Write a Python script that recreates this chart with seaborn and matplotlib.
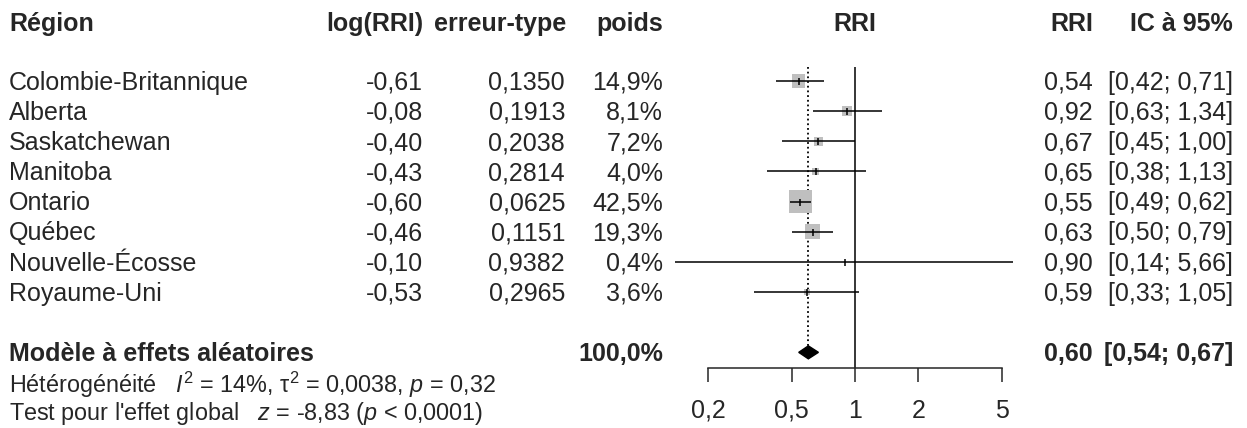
import seaborn as sns
import matplotlib.pyplot as plt
import numpy as np
from matplotlib.transforms import blended_transform_factory
from matplotlib.ticker import NullLocator

sns.set_style("white")
plt.rcParams['font.family'] = ['Liberation Sans', 'DejaVu Sans']
plt.rcParams['mathtext.fontset'] = 'custom'
plt.rcParams['mathtext.rm'] = 'Liberation Sans'
plt.rcParams['mathtext.it'] = 'Liberation Sans:italic'

# Data
regions = ["Colombie-Britannique", "Alberta", "Saskatchewan", "Manitoba",
           "Ontario", "Québec", "Nouvelle-Écosse", "Royaume-Uni"]
log_rri = ["-0,61", "-0,08", "-0,40", "-0,43", "-0,60", "-0,46", "-0,10", "-0,53"]
std_err = ["0,1350", "0,1913", "0,2038", "0,2814", "0,0625", "0,1151", "0,9382", "0,2965"]
weights = [14.9, 8.1, 7.2, 4.0, 42.5, 19.3, 0.4, 3.6]
rri = [0.54, 0.92, 0.67, 0.65, 0.55, 0.63, 0.90, 0.59]
ci_low = [0.42, 0.63, 0.45, 0.38, 0.49, 0.50, 0.14, 0.33]
ci_high = [0.71, 1.34, 1.00, 1.13, 0.62, 0.79, 5.66, 1.05]

pooled_rri = 0.60
pooled_low = 0.54
pooled_high = 0.67

ticks = [0.2, 0.5, 1, 2, 5]
tick_labels = ["0,2", "0,5", "1", "2", "5"]


def fmt(v):
    return f"{v:.2f}".replace(".", ",")


W, H = 1247, 428
fig = plt.figure(figsize=(W / 100, H / 100), dpi=100)

# forest axis: 0.2 -> px 708, 5 -> px 1002 ; rows every 30.15 px starting at px 81
row_h = 30.15
ax = fig.add_axes([708 / W, 0, 294 / W, 1])
ax.set_xscale("log")
ax.set_xlim(0.2, 5)
ax.set_ylim((H - 81) / row_h, -81 / row_h)
ax.patch.set_alpha(0)

rows = np.arange(len(regions))
pooled_row = 9
axis_row = 9.52

# reference lines
ax.vlines(1, -0.46, axis_row, color="black", lw=1.1, clip_on=False)
ax.vlines(pooled_rri, -0.46, pooled_row - 0.2, color="black", lw=1.3,
          linestyle=(0, (1, 1.6)), clip_on=False)

# weight squares (area proportional to weight)
side_px = 22.7 * np.sqrt(np.array(weights) / 42.5)
sns.scatterplot(x=rri, y=rows, marker="s", s=(side_px * 0.72) ** 2,
                color="#bfbfbf", linewidth=0, ax=ax, clip_on=False, zorder=2)
ax.hlines(rows, ci_low, ci_high, color="black", lw=1.1, clip_on=False, zorder=3)
sns.scatterplot(x=rri, y=rows, marker="|", s=(7 * 0.72) ** 2, color="black",
                linewidth=1.1, ax=ax, clip_on=False, zorder=4)

# pooled diamond
dh = 6.5 / row_h
ax.fill([pooled_low, pooled_rri, pooled_high, pooled_rri],
        [pooled_row, pooled_row - dh, pooled_row, pooled_row + dh],
        color="black", clip_on=False, zorder=5)

# axis
for s in ["top", "right", "left"]:
    ax.spines[s].set_visible(False)
ax.spines["bottom"].set_position(("data", axis_row))
ax.spines["bottom"].set_bounds(0.2, 5)
ax.spines["bottom"].set_linewidth(1.1)
ax.set_xticks(ticks)
ax.set_xticklabels(tick_labels)
ax.xaxis.set_minor_locator(NullLocator())
ax.tick_params(axis="x", direction="out", length=10, width=1.1, pad=12,
               labelsize=18, bottom=True)
ax.set_yticks([])
ax.set_xlabel("")
ax.set_ylabel("")
ax.grid(False)

# text columns
tr = blended_transform_factory(fig.transFigure, ax.transData)
fs = 18
off = 0.29  # baseline offset in rows


def put(xpx, row, s, ha="left", bold=False, size=fs):
    ax.text(xpx / W, row + off, s, transform=tr, ha=ha, va="baseline",
            fontsize=size, fontweight="bold" if bold else "normal", clip_on=False)


hdr = -1.96
put(9, hdr, "Région", bold=True)
put(423, hdr, "log(RRI)", ha="right", bold=True)
put(566, hdr, "erreur-type", ha="right", bold=True)
put(663, hdr, "poids", ha="right", bold=True)
put(855, hdr, "RRI", ha="center", bold=True)
put(1093, hdr, "RRI", ha="right", bold=True)
put(1233, hdr, "IC à 95%", ha="right", bold=True)

for i, r in enumerate(regions):
    put(9, i, r)
    put(423, i, log_rri[i], ha="right")
    put(565, i, std_err[i], ha="right")
    put(663, i, f"{weights[i]:.1f}%".replace(".", ","), ha="right")
    put(1093, i, fmt(rri[i]), ha="right")
    put(1233, i, f"[{fmt(ci_low[i])}; {fmt(ci_high[i])}]", ha="right")

put(9, pooled_row, "Modèle à effets aléatoires", bold=True)
put(663, pooled_row, f"{sum(weights):.1f}%".replace(".", ","), ha="right", bold=True)
put(1093, pooled_row, fmt(pooled_rri), ha="right", bold=True)
put(1233, pooled_row, f"[{fmt(pooled_low)}; {fmt(pooled_high)}]", ha="right", bold=True)

put(9, 10.05, r"Hétérogénéité   $I^2$ = 14%, $\mathrm{\tau}^2$ = 0,0038, $p$ = 0,32", size=16.8)
put(9, 10.97, r"Test pour l'effet global   $z$ = -8,83 ($p$ < 0,0001)", size=16.8)

fig.savefig("out.png", dpi=100)
plt.close(fig)
